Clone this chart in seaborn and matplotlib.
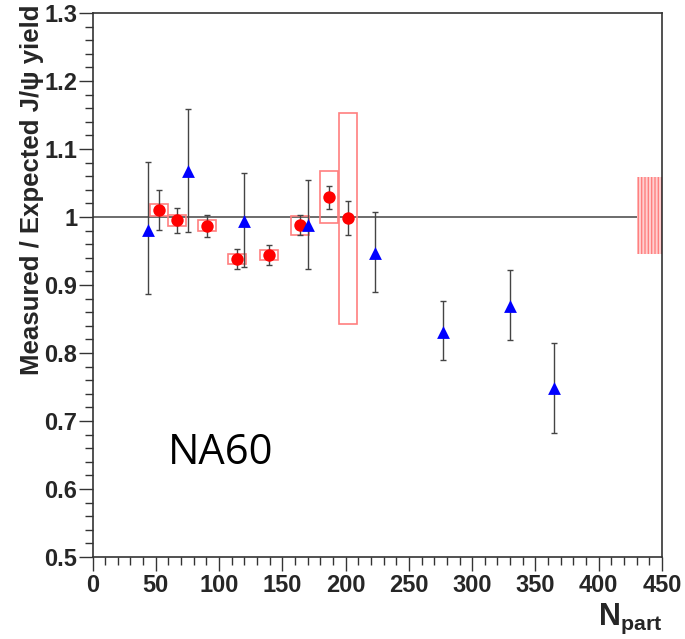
import matplotlib
matplotlib.use("Agg")
import matplotlib.pyplot as plt
from matplotlib.patches import Rectangle
from matplotlib.ticker import MultipleLocator
import seaborn as sns
import pandas as pd
import numpy as np

# ---- data ----
# blue triangles (Pb-Pb)
npart_pbpb = [43.6, 75.7, 119.5, 170.0, 223.0, 276.7, 330.0, 364.9]
ratio_pbpb = [0.981, 1.068, 0.994, 0.988, 0.947, 0.831, 0.869, 0.748]
err_hi_pbpb = [0.100, 0.091, 0.071, 0.067, 0.061, 0.045, 0.053, 0.066]
err_lo_pbpb = [0.094, 0.090, 0.067, 0.064, 0.057, 0.041, 0.050, 0.066]

# red circles (In-In, NA60)
npart_inin = [52.8, 67.0, 90.2, 113.9, 139.2, 164.0, 187.1, 202.1]
ratio_inin = [1.010, 0.995, 0.987, 0.938, 0.944, 0.988, 1.029, 0.998]
stat_inin = [0.029, 0.018, 0.016, 0.015, 0.015, 0.015, 0.017, 0.025]
syst_inin = [0.009, 0.008, 0.008, 0.0076, 0.0076, 0.014, 0.038, 0.155]

# global normalisation uncertainty
glob_center = 1.002
glob_err = 0.057

x_ticks = [0, 50, 100, 150, 200, 250, 300, 350, 400, 450]
y_ticks = [0.5, 0.6, 0.7, 0.8, 0.9, 1.0, 1.1, 1.2, 1.3]
y_tick_labels = ["0.5", "0.6", "0.7", "0.8", "0.9", "1", "1.1", "1.2", "1.3"]

df_pbpb = pd.DataFrame({"npart": npart_pbpb, "ratio": ratio_pbpb})
df_inin = pd.DataFrame({"npart": npart_inin, "ratio": ratio_inin})

# ---- style ----
sns.set_style("ticks")
plt.rcParams["font.family"] = ["Liberation Sans", "DejaVu Sans"]
plt.rcParams["font.weight"] = "bold"
plt.rcParams["mathtext.fontset"] = "custom"
plt.rcParams["mathtext.rm"] = "Liberation Sans:bold"
plt.rcParams["mathtext.bf"] = "Liberation Sans:bold"

fig = plt.figure(figsize=(6.85, 6.39), dpi=100)
ax = fig.add_axes([92.5 / 685, 1 - 557 / 639, (662 - 92.5) / 685, (557 - 13) / 639])

frame_col = "#333333"
box_col = "#ff7f7f"
bar_col = "#444444"

# reference line
ax.axhline(1.0, color="#444444", lw=1.1, zorder=1)

# global uncertainty box (hatched)
ax.add_patch(Rectangle((430, glob_center - glob_err), 20, 2 * glob_err,
                       facecolor="#ffd0d0", edgecolor="#ff8080", hatch="|||||",
                       lw=0, zorder=1))

# systematic boxes
box_hw = 7.0
for x, y, s in zip(npart_inin, ratio_inin, syst_inin):
    ax.add_patch(Rectangle((x - box_hw, y - s), 2 * box_hw, 2 * s,
                           fill=False, edgecolor=box_col, lw=1.2, zorder=2))

# error bars
ax.errorbar(npart_inin, ratio_inin, yerr=stat_inin, fmt="none",
            ecolor=bar_col, elinewidth=1.0, capsize=2.2, capthick=1.0, zorder=3)
ax.errorbar(npart_pbpb, ratio_pbpb, yerr=[err_lo_pbpb, err_hi_pbpb], fmt="none",
            ecolor=bar_col, elinewidth=1.0, capsize=2.2, capthick=1.0, zorder=3)

# markers
sns.scatterplot(data=df_inin, x="npart", y="ratio", ax=ax, marker="o",
                s=80, color="#ff0000", edgecolor="#ff0000", linewidth=0, zorder=4)
sns.scatterplot(data=df_pbpb, x="npart", y="ratio", ax=ax, marker="^",
                s=85, color="#0000ff", edgecolor="#0000ff", linewidth=0, zorder=5)

# axes
ax.set_xlim(0, 450)
ax.set_ylim(0.5, 1.3)
ax.set_xticks(x_ticks)
ax.set_yticks(y_ticks)
ax.set_yticklabels(y_tick_labels)
ax.xaxis.set_minor_locator(MultipleLocator(10))
ax.yaxis.set_minor_locator(MultipleLocator(0.02))
ax.tick_params(which="major", direction="out", length=10, width=1.0,
               color=frame_col, labelsize=17, pad=2)
ax.tick_params(which="minor", direction="out", length=5.5, width=1.0, color=frame_col)
ax.tick_params(axis="y", which="major", pad=1)
for lab in ax.get_xticklabels() + ax.get_yticklabels():
    lab.set_fontweight("bold")
for sp in ax.spines.values():
    sp.set_visible(True)
    sp.set_color(frame_col)
    sp.set_linewidth(1.2)

ax.set_ylabel("Measured / Expected J/ψ yield", fontsize=18.5, fontweight="bold", loc="top")
ax.yaxis.set_label_coords(-0.085, 1.015)
ax.set_xlabel(r"$\mathbf{N}_{\mathbf{part}}$", fontsize=22, loc="right")
ax.xaxis.set_label_coords(1.0, -0.083)

ax.text(59.5, 0.637, "NA60", fontsize=30, fontfamily="Open Sans",
        fontweight="normal", ha="left", va="baseline", color="black")

fig.savefig("out.png", dpi=100)
